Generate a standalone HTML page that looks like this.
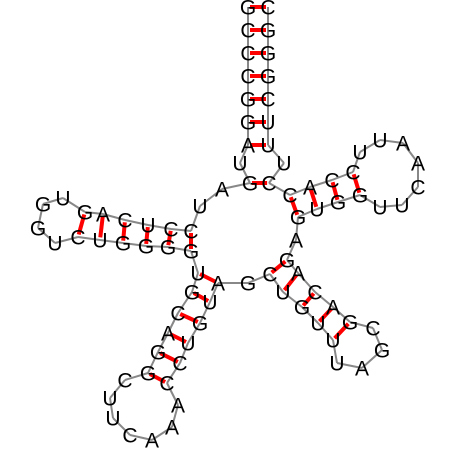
<!DOCTYPE html>
<html><head><meta charset="utf-8"><style>
html,body{margin:0;padding:0;background:#fff;}
svg{display:block;}
text{font-family:"Liberation Sans",Arial,sans-serif;font-size:21px;fill:#000;}
</style></head><body>
<svg id="rna" width="452" height="452" viewBox="0 0 452 452" xmlns="http://www.w3.org/2000/svg">
<g id="backbone"></g>
<g id="pairs"></g>
<g id="bases"></g>
</svg>
<script>
const letters = ["G","C","C","C","G","G","A","U","G","A","U","C","C","U","C","A","G","U","G","G","U","C","U","G","G","G","G","U","G","C","A","G","G","C","U","U","C","A","A","A","C","C","U","G","U","A","G","C","U","G","U","U","U","A","G","C","G","A","C","A","G","A","G","U","G","G","U","U","C","A","A","U","U","C","C","A","C","C","U","U","U","C","G","G","G","C"];
const posX = [248,248,248,248,248,248,248,240,250,222,200,191,171,148,125,103,85,63,43,38,55,78,100,123,146,168,191,198,192,178,168,158,148,125,110,113,130,152,172,178,167,180,188,200,210,218,248,270,283,302,318,333,337,362,382,373,350,333,315,298,287,296,298,317,338,360,380,402,418,418,403,380,360,353,332,310,290,269,284,268,268,268,268,268,268,268];
const posY = [7,30,53,76,99,122,145,163,183,189,206,231,229,225,220,214,212,198,204,228,243,237,240,243,246,247,251,273,292,313,333,352,373,380,398,418,435,440,427,405,383,363,343,323,302,283,283,274,292,307,323,340,363,368,350,328,322,307,292,273,260,240,217,209,202,195,207,205,187,163,143,140,152,172,180,187,195,183,163,145,122,99,76,53,30,7];
const pairI = [1,2,3,4,5,6,7,9,12,13,14,15,16,17,28,29,30,31,32,33,48,49,50,51,52,63,64,65,66];
const pairJ = [86,85,84,83,82,81,80,78,27,26,25,24,23,22,46,45,44,43,42,41,61,60,59,58,57,77,76,75,74];
</script>
<script>
const NS="http://www.w3.org/2000/svg";
const bb=document.getElementById('backbone');
const pg=document.getElementById('pairs');
const bg=document.getElementById('bases');
for(let k=0;k<posX.length-1;k++){
  const l=document.createElementNS(NS,'line');
  
  
  l.setAttribute('x1',posX[k]);l.setAttribute('y1',posY[k]);
  l.setAttribute('x2',posX[k+1]);l.setAttribute('y2',posY[k+1]);
  l.setAttribute('stroke','#888');l.setAttribute('stroke-width','2');
  bb.appendChild(l);
}
for(let p=0;p<pairI.length;p++){
  const a=pairI[p]-1,b=pairJ[p]-1;
  const dx=posX[b]-posX[a],dy=posY[b]-posY[a];
  const s=0.1;
  const l=document.createElementNS(NS,'line');
  
  
  l.setAttribute('x1',posX[a]+dx*s);l.setAttribute('y1',posY[a]+dy*s);
  l.setAttribute('x2',posX[b]-dx*s);l.setAttribute('y2',posY[b]-dy*s);
  l.setAttribute('stroke','#f00');l.setAttribute('stroke-width','4');
  pg.appendChild(l);
}
for(let k=0;k<posX.length;k++){
  const t=document.createElementNS(NS,'text');
  
  
  t.setAttribute('x',posX[k]);t.setAttribute('y',posY[k]+7.5);
  t.setAttribute('text-anchor','middle');
  t.textContent=letters[k];
  bg.appendChild(t);
}
</script>
</body></html>
